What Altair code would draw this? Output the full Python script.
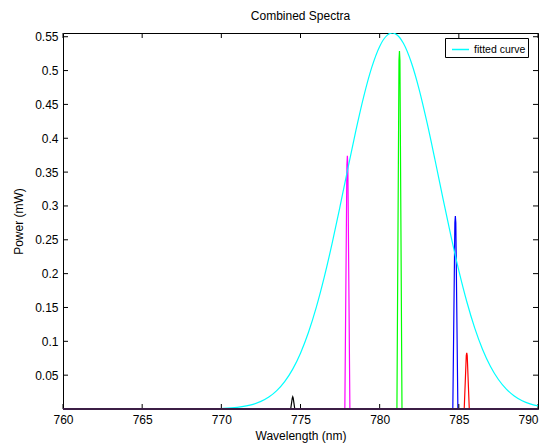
import altair as alt
import pandas as pd

# fitted curve
curve_x = [760, 762, 764, 766, 767, 768, 769, 770, 771, 772, 772.5, 773, 773.5, 774, 774.5,
           775, 775.5, 776, 776.5, 777, 777.5, 778, 778.5, 779, 779.5, 780, 780.5, 780.8,
           781, 781.5, 782, 782.5, 783, 783.5, 784, 784.5, 785, 785.5, 786, 786.5, 787,
           787.5, 788, 788.5, 789, 789.5, 790]
curve_y = [0, 0, 0, 0.00000, 0.00001, 0.00005, 0.0002, 0.00075, 0.0024, 0.0069, 0.0112, 0.0176,
           0.0271, 0.0404, 0.0585, 0.0825, 0.1130, 0.1505, 0.1948, 0.2450, 0.2996, 0.3562,
           0.4116, 0.4623, 0.5047, 0.5357, 0.5527, 0.5555, 0.5542, 0.5403, 0.5119, 0.4716,
           0.4222, 0.3675, 0.3109, 0.2557, 0.2044, 0.1588, 0.1199, 0.0880, 0.0628, 0.0436,
           0.0294, 0.0193, 0.0123, 0.0076, 0.0046]

# individual spectra
spec_colors = ["#000000", "#ff00ff", "#00ff00", "#0000ff", "#ff0000"]
spec_x = [
    [774.38, 774.48, 774.51, 774.54, 774.64],
    [777.80, 777.93, 777.96, 777.99, 778.12],
    [781.09, 781.22, 781.25, 781.28, 781.41],
    [784.62, 784.75, 784.78, 784.81, 784.94],
    [785.34, 785.47, 785.50, 785.53, 785.66],
]
spec_y = [
    [0, 0.016, 0.018, 0.016, 0],
    [0, 0.360, 0.374, 0.360, 0],
    [0, 0.515, 0.529, 0.515, 0],
    [0, 0.275, 0.285, 0.275, 0],
    [0, 0.079, 0.083, 0.079, 0],
]

x_ticks = [760, 765, 770, 775, 780, 785, 790]
y_ticks = [0.05, 0.1, 0.15, 0.2, 0.25, 0.3, 0.35, 0.4, 0.45, 0.5, 0.55]

W, H = 475, 376
FONT = "Liberation Sans"

curve_df = pd.DataFrame({"x": curve_x, "y": curve_y, "name": "fitted curve"})
rows = []
for i, c in enumerate(spec_colors):
    for xv, yv in zip(spec_x[i], spec_y[i]):
        rows.append({"x": xv, "y": yv, "s": i, "c": c})
spec_df = pd.DataFrame(rows)
xt_df = pd.DataFrame({"x": x_ticks})
yt_df = pd.DataFrame({"y": y_ticks})

xscale = alt.Scale(domain=[760, 790], nice=False, zero=False)
yscale = alt.Scale(domain=[0, 0.5555], nice=False, zero=False)

xaxis = alt.Axis(values=x_ticks, ticks=False, domain=False, grid=False, labelPadding=5,
                 labelOverlap=False, labelFlush=False,
                 labelAlign={"condition": {"test": "datum.value == 790", "value": "right"},
                             "value": "center"},
                 labelFontSize=12, labelFont=FONT, labelColor="#000", title="Wavelength (nm)",
                 titleFont=FONT, titleFontSize=12, titleFontWeight="normal", titlePadding=5,
                 titleColor="#000")
yaxis = alt.Axis(values=y_ticks, ticks=False, domain=False, grid=False, labelPadding=5,
                 labelOverlap=False, labelFlush=False,
                 labelExpr="'' + datum.value",
                 labelFontSize=12, labelFont=FONT, labelColor="#000", title="Power (mW)",
                 titleFont=FONT, titleFontSize=12, titleFontWeight="normal", titlePadding=9,
                 titleColor="#000")

X = alt.X("x:Q", scale=xscale, axis=xaxis)
Y = alt.Y("y:Q", scale=yscale, axis=yaxis)

spectra = alt.Chart(spec_df).mark_line(strokeWidth=1.2, clip=True).encode(
    x=X, y=Y,
    detail="s:N",
    stroke=alt.Stroke("c:N", scale=None),
    order="x:Q",
)

curve = alt.Chart(curve_df).mark_line(strokeWidth=1.2, interpolate="monotone", clip=True).encode(
    x=X, y=Y,
    color=alt.Color("name:N", scale=alt.Scale(domain=["fitted curve"], range=["#00ffff"]),
                    legend=alt.Legend(title=None, orient="none", legendX=382, legendY=5,
                                      symbolType="stroke", symbolSize=289, symbolStrokeWidth=1.5,
                                      symbolOffset=4,
                                      labelFontSize=10.5, labelFont=FONT, labelOffset=4,
                                      padding=2, strokeColor="#000", fillColor="#fff",
                                      cornerRadius=0)),
)

base_line = alt.Chart(pd.DataFrame({"y": [0]})).mark_rule(color="#3c1e46", strokeWidth=2).encode(
    y=Y)

tick_color = "#000"
xt_bottom = alt.Chart(xt_df).mark_rule(color=tick_color, strokeWidth=1).encode(
    x=X, y=alt.value(H), y2=alt.value(H - 5))
xt_top = alt.Chart(xt_df).mark_rule(color=tick_color, strokeWidth=1).encode(
    x=X, y=alt.value(0), y2=alt.value(5))
yt_left = alt.Chart(yt_df).mark_rule(color=tick_color, strokeWidth=1).encode(
    y=Y, x=alt.value(0), x2=alt.value(5))
yt_right = alt.Chart(yt_df).mark_rule(color=tick_color, strokeWidth=1).encode(
    y=Y, x=alt.value(W), x2=alt.value(W - 5))

chart = alt.layer(spectra, xt_bottom, xt_top, yt_left, yt_right, curve, base_line).properties(
    width=W, height=H,
    title=alt.TitleParams("Combined Spectra", font=FONT, fontSize=12, fontWeight="normal",
                          color="#000", offset=8),
    autosize=alt.AutoSizeParams(type="none"),
    padding={"left": 55, "top": 25, "right": 3, "bottom": 37},
    background="white",
).configure_view(stroke="#000", strokeWidth=1).configure_axis(labelOverlap=False)

chart.save("out.html", embed_options={"renderer": "svg", "actions": False})
